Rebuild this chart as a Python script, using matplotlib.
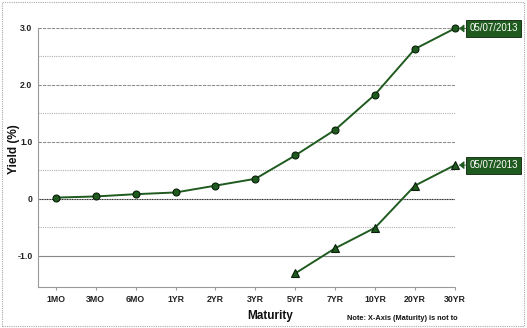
import matplotlib.pyplot as plt
from matplotlib.patches import Rectangle

plt.rcParams['font.family'] = ['Liberation Sans', 'DejaVu Sans']

maturities = ['1MO', '3MO', '6MO', '1YR', '2YR', '3YR', '5YR', '7YR', '10YR', '20YR', '30YR']
nominal = [0.02, 0.04, 0.08, 0.11, 0.23, 0.35, 0.76, 1.21, 1.83, 2.63, 2.99]
tips_labels = ['5YR', '7YR', '10YR', '20YR', '30YR']
tips = [-1.31, -0.87, -0.51, 0.23, 0.59]
date_label = '05/07/2013'

green = '#1f5a1f'

fig = plt.figure(figsize=(5.27, 3.28), dpi=100)
ax = fig.add_axes([0.072, 0.125, 0.791, 0.79])

x_all = list(range(len(maturities)))
x_tips = [maturities.index(m) for m in tips_labels]

# gridlines
for y in [0.5, 1.5, 2.5, -0.5]:
    ax.axhline(y, color='#b0b0b0', lw=0.8, ls=(0, (1, 1)), zorder=1)
for y in [1.0, 2.0, 3.0]:
    ax.axhline(y, color='#909090', lw=0.8, ls=(0, (3, 1)), zorder=1)
ax.axhline(0, color='#222222', lw=0.8, ls=(0, (1, 0.5)), zorder=1)
ax.axhline(-1.0, color='#888888', lw=0.8, zorder=1)

ax.plot(x_all, nominal, color=green, lw=1.4, marker='o', ms=5,
        mfc=green, mec='#0a1f0a', mew=0.8, zorder=3, clip_on=False)
ax.plot(x_tips, tips, color=green, lw=1.4, marker='^', ms=5.5,
        mfc=green, mec='#0a1f0a', mew=0.8, zorder=3, clip_on=False)

for yv in [nominal[-1], tips[-1]]:
    ax.annotate(date_label, xy=(len(maturities) - 1, yv), xytext=(10.5, 0),
                textcoords='offset points', va='center', ha='left',
                color='white', fontsize=7,
                bbox=dict(boxstyle='square,pad=0.35', fc=green, ec='#0a1f0a', lw=0.6),
                arrowprops=dict(arrowstyle='-|>,head_length=0.45,head_width=0.35',
                                color=green, lw=0.6, shrinkA=0, shrinkB=3))

ax.set_xlim(-0.45, 10)
ax.set_ylim(-1.55, 3.0)
ax.set_xticks(x_all)
ax.set_xticklabels(maturities, fontsize=6.3, fontweight='bold', color='#222222')
ax.set_yticks([-1.0, 0, 1.0, 2.0, 3.0])
ax.set_yticklabels(['-1.0', '0', '1.0', '2.0', '3.0'], fontsize=6.3,
                   fontweight='bold', color='#222222')
ax.tick_params(axis='x', length=2, color='#999999', pad=4)
ax.tick_params(axis='y', length=0, pad=4)

for s in ['top', 'right']:
    ax.spines[s].set_visible(False)
for s in ['left', 'bottom']:
    ax.spines[s].set_color('#999999')
    ax.spines[s].set_linestyle((0, (1, 1)))
    ax.spines[s].set_linewidth(0.8)

fig.text(0.026, 0.545, 'Yield (%)', rotation=90, ha='center', va='center',
         fontsize=8.5, fontweight='bold', color='#111111')
fig.text(0.513, 0.037, 'Maturity', ha='center', va='center',
         fontsize=8.5, fontweight='bold', color='#111111')
fig.text(0.658, 0.03, 'Note: X-Axis (Maturity) is not to', ha='left', va='center',
         fontsize=5.3, fontweight='bold', color='#111111')

fig.patches.append(Rectangle((0.004, 0.005), 0.99, 0.99, transform=fig.transFigure,
                             fill=False, ec='#aaaaaa', lw=0.8, ls=(0, (1, 1))))

fig.savefig('out.png', dpi=100)
